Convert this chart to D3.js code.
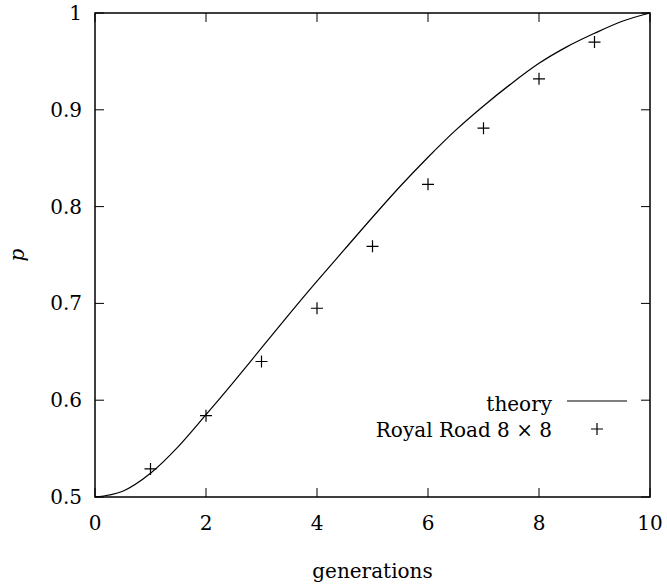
<!DOCTYPE html>
<html>
<head>
<meta charset="utf-8">
<script src="https://cdn.jsdelivr.net/npm/d3@7"></script>
<style>
  body { margin: 0; background: #fff; }
</style>
</head>
<body>
<svg id="chart" width="667" height="586"></svg>
<script>
// theory curve
const theoryT = [0, 0.5, 1, 1.5, 2, 2.5, 3, 3.5, 4, 4.5, 5, 5.5, 6, 6.5, 7, 7.5, 8, 8.5, 9, 9.5, 10];
const theoryP = [0.5, 0.506, 0.5245, 0.552, 0.585, 0.619, 0.654, 0.689, 0.723, 0.756, 0.789, 0.821, 0.851, 0.879, 0.904, 0.927, 0.948, 0.965, 0.979, 0.9915, 1.0];

// Royal Road 8 x 8 measurements
const gens = [1, 2, 3, 4, 5, 6, 7, 8, 9];
const measured = [0.529, 0.584, 0.640, 0.695, 0.759, 0.823, 0.881, 0.932, 0.970];

const xTicks = [0, 2, 4, 6, 8, 10];
const yTicks = [0.5, 0.6, 0.7, 0.8, 0.9, 1];

const FONT = "'DejaVu Serif', 'Liberation Serif', serif";
const margin = { left: 95, right: 17, top: 13, bottom: 89 };
const W = 667, H = 586;

const svg = d3.select('#chart')
    .attr('font-family', FONT);
const x = d3.scaleLinear().domain([0, 10]).range([margin.left, W - margin.right]);
const y = d3.scaleLinear().domain([0.5, 1]).range([H - margin.bottom, margin.top]);

const TICK = 9;

// ticks (inward, mirrored on all sides)
const g = svg.append('g').attr('stroke', '#000').attr('stroke-width', 1);
xTicks.forEach(t => {
    g.append('line').attr('x1', x(t)).attr('x2', x(t)).attr('y1', y(0.5)).attr('y2', y(0.5) - TICK);
    g.append('line').attr('x1', x(t)).attr('x2', x(t)).attr('y1', y(1)).attr('y2', y(1) + TICK);
});
yTicks.forEach(v => {
    g.append('line').attr('x1', x(0)).attr('x2', x(0) + TICK).attr('y1', y(v)).attr('y2', y(v));
    g.append('line').attr('x1', x(10)).attr('x2', x(10) - TICK).attr('y1', y(v)).attr('y2', y(v));
});

// tick labels
svg.append('g').selectAll('text').data(xTicks).join('text')
    .attr('x', d => x(d)).attr('y', y(0.5) + 33)
    .attr('text-anchor', 'middle').attr('font-size', 20)
    .text(d => d);
svg.append('g').selectAll('text').data(yTicks).join('text')
    .attr('x', x(0) - 13).attr('y', d => y(d) + 7)
    .attr('text-anchor', 'end').attr('font-size', 20)
    .text(d => d);

// axis titles
svg.append('text')
    .attr('x', (x(0) + x(10)) / 2).attr('y', H - 8)
    .attr('text-anchor', 'middle').attr('font-size', 20)
    .text('generations');
svg.append('text')
    .attr('transform', `translate(24,${(y(0.5) + y(1)) / 2}) rotate(-90)`)
    .attr('text-anchor', 'middle').attr('font-size', 20).attr('font-style', 'italic')
    .text('p');

// theory curve
const line = d3.line()
    .x(d => x(d[0]))
    .y(d => y(d[1]))
    .curve(d3.curveMonotoneX);
svg.append('path')
    .datum(theoryT.map((t, i) => [t, theoryP[i]]))
    .attr('d', line)
    .attr('fill', 'none').attr('stroke', '#000').attr('stroke-width', 1.2);

// plus markers
function plus(sel, cx, cy) {
    const s = 6;
    sel.append('path')
        .attr('d', `M${cx - s},${cy}H${cx + s}M${cx},${cy - s}V${cy + s}`)
        .attr('stroke', '#000').attr('stroke-width', 1.2).attr('fill', 'none');
}
const pts = svg.append('g');
gens.forEach((t, i) => plus(pts, x(t), y(measured[i])));

// legend
const lg = svg.append('g');
lg.append('text').attr('x', 552).attr('y', 411).attr('text-anchor', 'end').attr('font-size', 20)
    .text('theory');
lg.append('line').attr('x1', 567).attr('x2', 627).attr('y1', 401).attr('y2', 401)
    .attr('stroke', '#000').attr('stroke-width', 1.2);
lg.append('text').attr('x', 552).attr('y', 437).attr('text-anchor', 'end').attr('font-size', 20)
    .text('Royal Road 8 × 8');
plus(lg, 597, 429);

// border
svg.append('rect')
    .attr('x', x(0)).attr('y', y(1))
    .attr('width', x(10) - x(0)).attr('height', y(0.5) - y(1))
    .attr('fill', 'none').attr('stroke', '#000').attr('stroke-width', 1.5);
</script>
</body>
</html>
